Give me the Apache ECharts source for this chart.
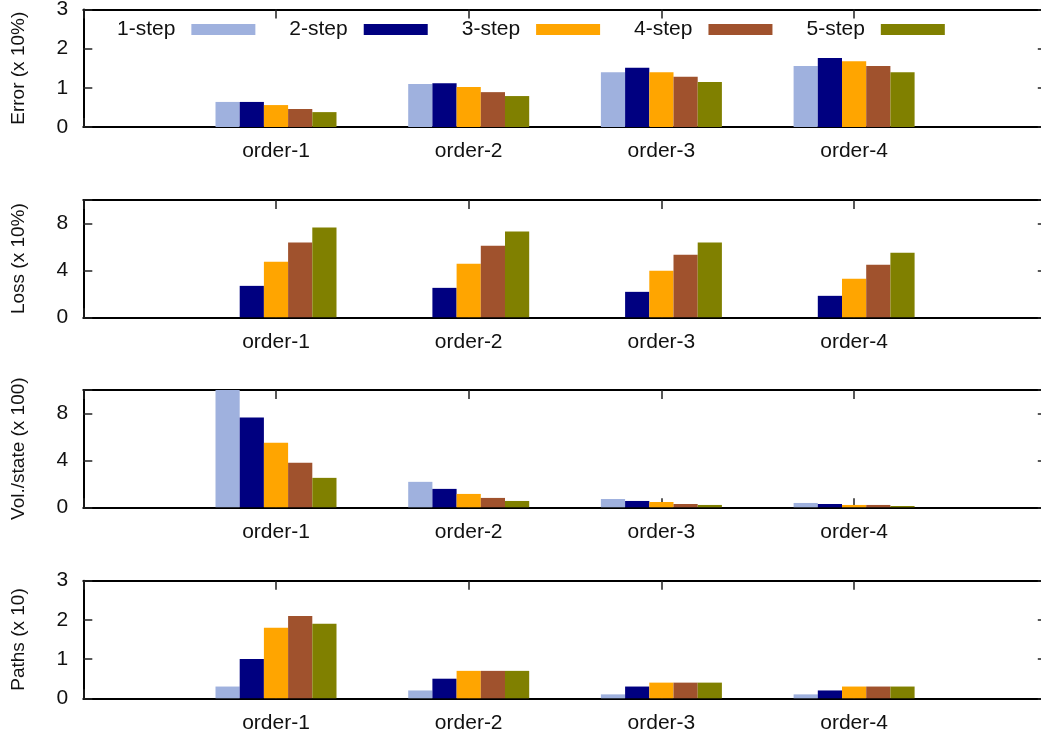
<!DOCTYPE html>
<html><head><meta charset="utf-8">
<script src="https://cdn.jsdelivr.net/npm/echarts@6/dist/echarts.min.js"></script>
<style>html,body{margin:0;padding:0;background:#fff}#c{width:1041px;height:738px}</style>
</head><body><div id="c"></div>
<script>
// ---- data ----
const categories = ['order-1', 'order-2', 'order-3', 'order-4'];
const stepNames = ['1-step', '2-step', '3-step', '4-step', '5-step'];
const stepColors = ['#9fb1de', '#000080', '#ffa500', '#a0522d', '#808000'];

// Error (x 10%) : rows = steps, cols = orders
const errorData = [
  [0.64, 1.10, 1.40, 1.56],
  [0.64, 1.12, 1.51, 1.76],
  [0.56, 1.02, 1.40, 1.68],
  [0.46, 0.89, 1.28, 1.56],
  [0.38, 0.79, 1.15, 1.40]
];
// Loss (x 10%)
const lossData = [
  [0, 0, 0, 0],
  [2.68, 2.51, 2.17, 1.83],
  [4.74, 4.57, 3.97, 3.28],
  [6.37, 6.11, 5.34, 4.48],
  [7.65, 7.31, 6.37, 5.51]
];
// Vol./state (x 100)
const volData = [
  [10.0, 2.17, 0.71, 0.37],
  [7.65, 1.57, 0.54, 0.28],
  [5.51, 1.14, 0.45, 0.20],
  [3.80, 0.80, 0.28, 0.20],
  [2.51, 0.54, 0.20, 0.11]
];
// Paths (x 10)
const pathsData = [
  [0.3, 0.2, 0.1, 0.1],
  [1.0, 0.5, 0.3, 0.2],
  [1.8, 0.7, 0.4, 0.3],
  [2.1, 0.7, 0.4, 0.3],
  [1.9, 0.7, 0.4, 0.3]
];
const panelTitles = ['Error (x 10%)', 'Loss (x 10%)', 'Vol./state (x 100)', 'Paths (x 10)'];
const panelMax = [3, 10, 10, 3];
const panelInterval = [1, 4, 4, 1];

// ---- layout ----
const panels = [errorData, lossData, volData, pathsData];
const gridTops = [9.5, 200, 390, 580.7];
const gridHeights = [117.5, 117.3, 117.3, 117.6];
const FONT = 'Liberation Sans';

const grids = [], xAxes = [], yAxes = [], series = [];
panels.forEach((data, p) => {
  grids.push({left: 83.3, width: 963.5, top: gridTops[p], height: gridHeights[p],
              containLabel: false, outerBoundsMode: 'none'});
  // bottom x axis (labels)
  xAxes.push({
    type: 'value', gridIndex: p, min: -1, max: 4, interval: 1, position: 'bottom',
    splitLine: {show: false},
    axisLine: {show: true, onZero: false, lineStyle: {color: '#000', width: 2}},
    axisTick: {show: true, inside: true, length: 9, lineStyle: {color: '#222', width: 1.5}},
    axisLabel: {
      show: true, margin: 14, color: '#111', fontFamily: FONT, fontSize: 21,
      formatter: v => { const i = Math.round(v); return (i >= 0 && i < categories.length) ? categories[i] : ''; }
    }
  });
  // top x axis (mirror ticks)
  xAxes.push({
    type: 'value', gridIndex: p, min: -1, max: 4, interval: 1, position: 'top',
    splitLine: {show: false},
    axisLine: {show: true, onZero: false, lineStyle: {color: '#000', width: 2}},
    axisTick: {show: true, inside: true, length: 9, lineStyle: {color: '#222', width: 1.5}},
    axisLabel: {show: false}
  });
  yAxes.push({
    type: 'value', gridIndex: p, min: 0, max: panelMax[p], interval: panelInterval[p], position: 'left',
    name: panelTitles[p], nameLocation: 'middle', nameGap: 55, nameRotate: 90,
    nameTextStyle: {fontFamily: FONT, fontSize: 19, color: '#111'},
    splitLine: {show: false},
    axisLine: {show: true, onZero: false, lineStyle: {color: '#000', width: 2}},
    axisTick: {show: true, inside: true, length: 9, lineStyle: {color: '#222', width: 1.5}},
    axisLabel: {
      show: true, margin: 15, color: '#111', fontFamily: FONT, fontSize: 21,
      formatter: v => (v % panelInterval[p] === 0 ? String(v) : '')
    }
  });
  yAxes.push({
    type: 'value', gridIndex: p, min: 0, max: panelMax[p], interval: panelInterval[p], position: 'right',
    splitLine: {show: false},
    axisLine: {show: true, onZero: false, lineStyle: {color: '#000', width: 2}},
    axisTick: {show: true, inside: true, length: 9, lineStyle: {color: '#222', width: 1.5}},
    axisLabel: {show: false}
  });
  data.forEach((vals, s) => {
    series.push({
      type: 'bar', name: stepNames[s], xAxisIndex: 2 * p, yAxisIndex: 2 * p,
      barWidth: 24.2, barGap: '0%',
      itemStyle: {color: stepColors[s]},
      data: categories.map((c, i) => [i, vals[i]])
    });
  });
});

const chart = echarts.init(document.getElementById('c'), null, {renderer: 'canvas'});
chart.setOption({
  animation: false,
  backgroundColor: '#fff',
  color: stepColors,
  legend: {
    data: stepNames, left: 117, top: 19, padding: 0, align: 'right',
    itemWidth: 64, itemHeight: 11, itemGap: 34,
    icon: 'rect',
    textStyle: {fontFamily: FONT, fontSize: 21, color: '#111', padding: [0, 11, 0, 0]}
  },
  grid: grids, xAxis: xAxes, yAxis: yAxes, series: series
});
</script>
</body></html>
